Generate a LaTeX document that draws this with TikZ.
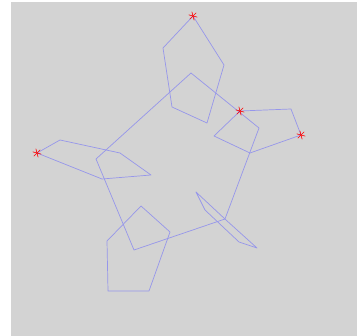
\documentclass[tikz,border=0pt]{standalone}
\usetikzlibrary{plotmarks}
\definecolor{bg}{RGB}{211,211,211}
\definecolor{ln}{RGB}{150,150,235}
\begin{document}
\begin{tikzpicture}[x=1pt,y=-1pt,
  edge/.style={draw=ln, line width=0.7pt, line join=round},
  hit/.style={draw=red, line width=0.6pt}]
\useasboundingbox (0,0) rectangle (357,336);
\fill[white] (0,0) rectangle (357,336);
\fill[bg] (11,2) rectangle (357,336);
% big pentagon vertices
\coordinate (A) at (191,73);
\coordinate (B) at (259,128);
\coordinate (C) at (225,219);
\coordinate (D) at (134,250);
\coordinate (E) at (96,159);
\draw[edge] (A) -- (B) -- (C) -- (D) -- (E) -- cycle;
% small pentagons
\draw[edge] (193,16) -- (224,65) -- (207,123) -- (172,107) -- (163,48) -- cycle;
\draw[edge] (240,111) -- (291,109) -- (301,135) -- (250,153) -- (214,136) -- cycle;
\draw[edge] (37,153) -- (60,140) -- (120,153) -- (151,175) -- (102,179) -- cycle;
\draw[edge] (141,206) -- (170,232) -- (149,291) -- (108,291) -- (107,241) -- cycle;
\draw[edge] (196,192) -- (205,210) -- (239,242) -- (257,248) -- (226,220) -- cycle;
% marks
\foreach \p in {(193,16),(240,111),(301,135),(37,153)}{
  \foreach \a in {15,75,135,195,255,315}{
    \draw[hit] \p -- ++(\a:4.5);
  }
}
\end{tikzpicture}
\end{document}
